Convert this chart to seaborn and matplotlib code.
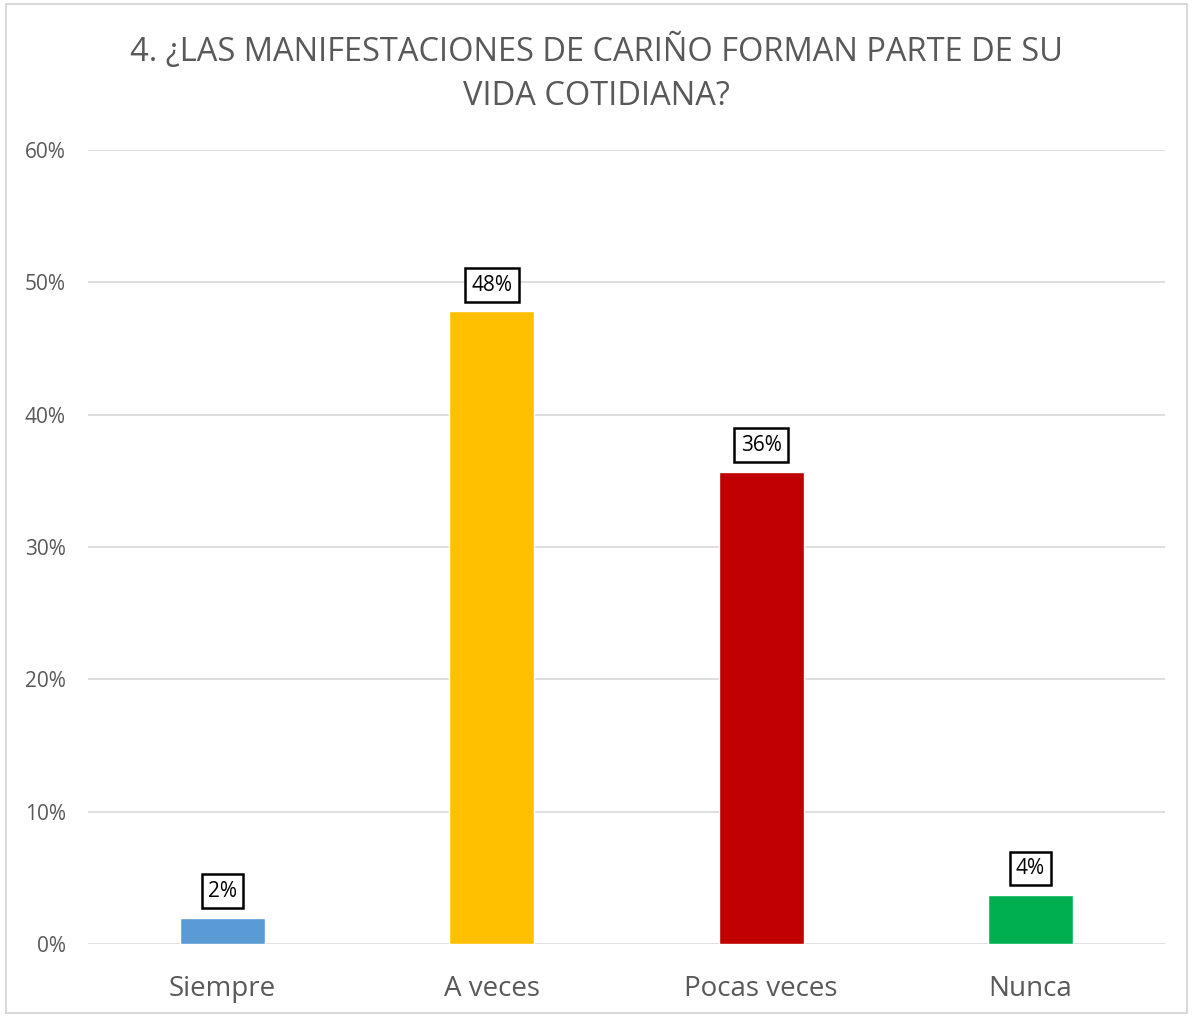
import matplotlib
matplotlib.use('Agg')
import matplotlib.pyplot as plt
import seaborn as sns
import pandas as pd

# datos
categorias = ['Siempre', 'A veces', 'Pocas veces', 'Nunca']
porcentajes = [2.0, 47.8, 35.7, 3.7]
etiquetas = ['2%', '48%', '36%', '4%']
colores = ['#5B9BD5', '#FFC000', '#C00000', '#00B050']

df = pd.DataFrame({'cat': categorias, 'pct': porcentajes})

sns.set_style('white')
plt.rcParams['font.family'] = ['Open Sans', 'DejaVu Sans']
gris = '#595959'

fig = plt.figure(figsize=(11.93, 10.17), dpi=100)
ax = fig.add_axes([0.0738, 0.0718, 0.9027, 0.7807])

sns.barplot(data=df, x='cat', y='pct', hue='cat', palette=colores, legend=False,
            width=0.315, ax=ax, zorder=3, saturation=1)

ax.set_ylim(0, 60)
ax.set_xlim(-0.5, 3.5)
ax.set_yticks(range(0, 61, 10))
ax.set_yticklabels([f'{v}%' for v in range(0, 61, 10)], fontsize=15, color=gris)
ax.tick_params(axis='x', labelsize=20, colors=gris, length=0, pad=22)
ax.tick_params(axis='y', length=0, pad=16)
ax.yaxis.grid(True, color='#D9D9D9', linewidth=1.2, zorder=0)
for s in ax.spines.values():
    s.set_visible(False)
ax.set_xlabel('')
ax.set_ylabel('')

for i, (v, t) in enumerate(zip(porcentajes, etiquetas)):
    ax.annotate(t, (i, v), xytext=(0, 19), textcoords='offset points',
                ha='center', va='center', fontsize=15, color='black', zorder=5,
                bbox=dict(boxstyle='square,pad=0.3', fc='white', ec='black', lw=1.8))

fig.text(0.5, 0.928, '4. ¿LAS MANIFESTACIONES DE CARIÑO FORMAN PARTE DE SU\nVIDA COTIDIANA?',
         ha='center', va='center', fontsize=23.5, color=gris, linespacing=1.45)

# marco exterior
fig.patches.append(plt.Rectangle((0.005, 0.004), 0.99, 0.992, transform=fig.transFigure,
                                 fill=False, ec='#D9D9D9', lw=1.5))

fig.savefig('out.png', dpi=100, facecolor='white')
